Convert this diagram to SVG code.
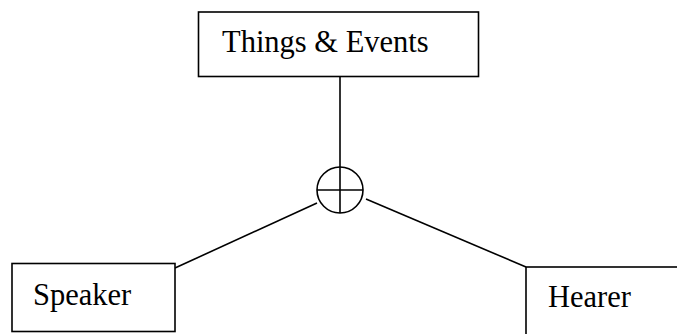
<svg xmlns="http://www.w3.org/2000/svg" width="677" height="334" viewBox="0 0 677 334">
<style>
.box{fill:#fff;stroke:#000;stroke-width:1.6}
.ln{fill:none;stroke:#000;stroke-width:1.6}
text{font-family:"Liberation Serif","Times New Roman",serif;font-size:30.5px;fill:#000}
</style>
<rect width="677" height="334" fill="#fff"/>
<g id="connectors">
<line class="ln" x1="340" y1="76" x2="340" y2="213"/>
<line class="ln" x1="175" y1="268" x2="317" y2="203"/>
<line class="ln" x1="366" y1="199" x2="526" y2="267"/>
</g>
<g id="junction">
<circle class="ln" cx="340" cy="190" r="23"/>
<line class="ln" x1="317" y1="190" x2="363" y2="190"/>
</g>
<g id="things-events">
<rect class="box" x="198.5" y="12" width="280" height="64.5"/>
<text x="222" y="52">Things &amp; Events</text>
</g>
<g id="speaker">
<rect class="box" x="12" y="263.5" width="163" height="68"/>
<text x="33" y="305">Speaker</text>
</g>
<g id="hearer">
<rect class="box" x="526" y="267" width="170" height="80"/>
<text x="548" y="307">Hearer</text>
</g>
</svg>
